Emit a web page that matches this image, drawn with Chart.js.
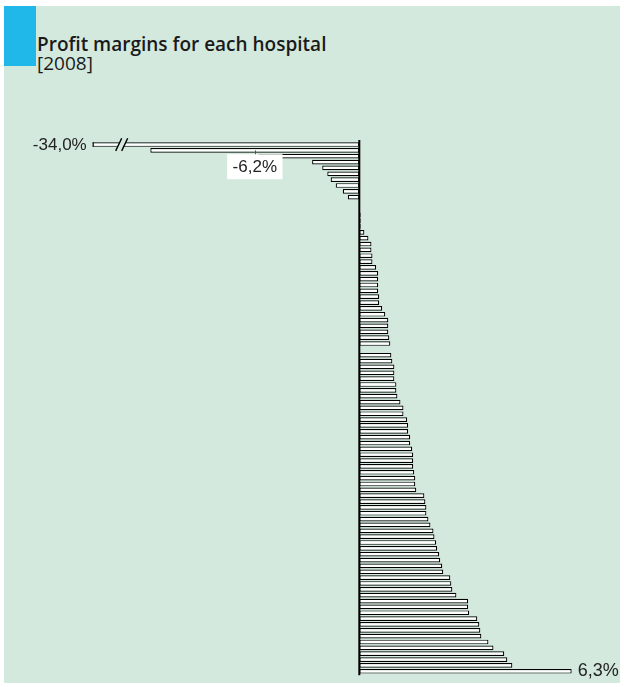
<!DOCTYPE html>
<html>
<head>
<meta charset="utf-8">
<script src="https://cdn.jsdelivr.net/npm/chart.js@4/dist/chart.umd.min.js"></script>
<style>
  html, body { margin: 0; padding: 0; background: #ffffff; }
  #wrap { position: relative; width: 624px; height: 687px; overflow: hidden; }
  #panel { position: absolute; left: 4px; top: 6px; width: 616px; height: 677px; background: #d3e9dd; }
  #tab { position: absolute; left: 4px; top: 6px; width: 32px; height: 60px; background: #1fb8e8; }
  #title { position: absolute; left: 37px; top: 34px; font-family: "Open Sans", sans-serif; font-weight: 600; font-size: 19px; color: #1a1a1a; line-height: 20px; }
  #sub { position: absolute; left: 37px; top: 53px; font-family: "Open Sans", sans-serif; font-weight: 400; font-size: 19px; color: #1a1a1a; line-height: 20px; }
  canvas { position: absolute; left: 0; top: 0; }
</style>
</head>
<body>
<div id="wrap">
  <div id="panel"></div>
  <div id="tab"></div>
  <div id="title">Profit margins for each hospital</div>
  <div id="sub">[2008]</div>
  <canvas id="c" width="624" height="687"></canvas>
</div>
<script>
// Profit margin of every hospital in 2008 (percent), sorted from worst to best.
// null = no figure reported for that hospital.
const margins = [
  -34.0, -6.2, -3.0, -1.40, -1.10, -0.95, -0.85, -0.70, -0.49, -0.34,
  null, null, 0.04, 0.04, 0.04, 0.15, 0.27, 0.36, 0.36, 0.39,
  0.39, 0.50, 0.56, 0.56, 0.56, 0.56, 0.59, 0.59, 0.68, 0.77,
  0.86, 0.86, 0.86, 0.89, 0.92, null, 0.95, 0.98, 1.04, 1.04,
  1.04, 1.10, 1.10, 1.13, 1.22, 1.31, 1.31, 1.42, 1.45, 1.45,
  1.51, 1.51, 1.57, 1.60, 1.60, 1.60, 1.63, 1.66, 1.66, 1.69,
  1.93, 1.96, 1.99, 1.99, 2.05, 2.11, 2.20, 2.23, 2.28, 2.31,
  2.37, 2.40, 2.46, 2.49, 2.70, 2.73, 2.76, 2.88, 3.23, 3.23,
  3.26, 3.50, 3.56, 3.59, 3.62, 3.83, 3.98, 4.30, 4.39, 4.54,
  6.3
];
const hospitals = margins.map((_, i) => 'Hospital ' + (i + 1));

// Visible range of the value axis; the worst bar runs past its left end and is cut.
const axisMin = -7.91;
const axisMax = 6.5;
const breakAt = -7.05;

const bgColor = '#d3e9dd';
const fmt = v => v.toFixed(1).replace('.', ',') + '%';

// indices of the bars that carry a value label
const minIdx = margins.indexOf(Math.min(...margins.filter(v => v !== null)));
const maxIdx = margins.indexOf(Math.max(...margins.filter(v => v !== null)));
const secondIdx = minIdx + 1;

const annotate = {
  id: 'annotate',
  afterDatasetsDraw(chart) {
    const { ctx, chartArea: a, scales: { x } } = chart;
    const meta = chart.getDatasetMeta(0);
    const x0 = x.getPixelForValue(0);
    ctx.save();

    // zero line
    ctx.strokeStyle = '#000';
    ctx.lineWidth = 2;
    ctx.beginPath();
    ctx.moveTo(x0, a.top - 1.5);
    ctx.lineTo(x0, a.bottom + 1);
    ctx.stroke();

    // worst bar: closed left end at the axis edge plus a break mark
    const b = meta.data[minIdx];
    const top = b.y - b.height / 2, bot = b.y + b.height / 2;
    ctx.lineWidth = 1.2;
    ctx.beginPath();
    ctx.moveTo(a.left + 0.5, top);
    ctx.lineTo(a.left + 0.5, bot);
    ctx.stroke();

    const bx = x.getPixelForValue(breakAt);
    const t = top - 4, u = bot + 4, s = 3, g = 3;
    ctx.fillStyle = bgColor;
    ctx.beginPath();
    ctx.moveTo(bx - g - s, u);
    ctx.lineTo(bx - g + s, t);
    ctx.lineTo(bx + g + s, t);
    ctx.lineTo(bx + g - s, u);
    ctx.closePath();
    ctx.fill();
    ctx.lineWidth = 1.4;
    ctx.beginPath();
    ctx.moveTo(bx - g - s, u); ctx.lineTo(bx - g + s, t);
    ctx.moveTo(bx + g - s, u); ctx.lineTo(bx + g + s, t);
    ctx.stroke();

    ctx.font = '17px "Liberation Sans", Arial, sans-serif';
    ctx.fillStyle = '#222';
    ctx.textBaseline = 'middle';

    // label of the worst bar, left of the cut bar
    ctx.textAlign = 'right';
    ctx.fillText(fmt(margins[minIdx]), a.left - 6, b.y + 1);

    // label of the second worst bar, in a white box under its middle
    const e = meta.data[secondIdx];
    const cx = (e.x + e.base) / 2;
    const txt = fmt(margins[secondIdx]);
    const bw = ctx.measureText(txt).width + 11;
    const bh = 25;
    const by = e.y + e.height / 2 + 1.5;
    ctx.fillStyle = '#ffffff';
    ctx.fillRect(cx - bw / 2, by, bw, bh);
    ctx.strokeStyle = '#555';
    ctx.lineWidth = 1;
    ctx.beginPath();
    ctx.moveTo(Math.round(cx) + 0.5, e.y);
    ctx.lineTo(Math.round(cx) + 0.5, by);
    ctx.stroke();
    ctx.fillStyle = '#222';
    ctx.textAlign = 'center';
    ctx.fillText(txt, cx, by + bh / 2 + 1);

    // label of the best bar, right of its end
    const m = meta.data[maxIdx];
    ctx.font = '18px "Liberation Sans", Arial, sans-serif';
    ctx.textAlign = 'left';
    ctx.fillText(fmt(margins[maxIdx]), m.x + 6, m.y);

    ctx.restore();
  }
};

new Chart(document.getElementById('c'), {
  type: 'bar',
  data: {
    labels: hospitals,
    datasets: [{
      data: margins,
      backgroundColor: '#ffffff',
      borderColor: '#000000',
      borderWidth: 1.2,
      borderSkipped: false,
      barPercentage: 0.8,
      categoryPercentage: 1,
      clip: 0
    }]
  },
  options: {
    indexAxis: 'y',
    responsive: false,
    animation: false,
    devicePixelRatio: 1,
    layout: { padding: { left: 92.7, right: 45.6, top: 141.6, bottom: 12.8 } },
    scales: {
      x: { display: false, min: axisMin, max: axisMax },
      y: { display: false }
    },
    plugins: {
      legend: { display: false },
      tooltip: { enabled: false },
      title: { display: false }
    }
  },
  plugins: [annotate]
});
</script>
</body>
</html>
